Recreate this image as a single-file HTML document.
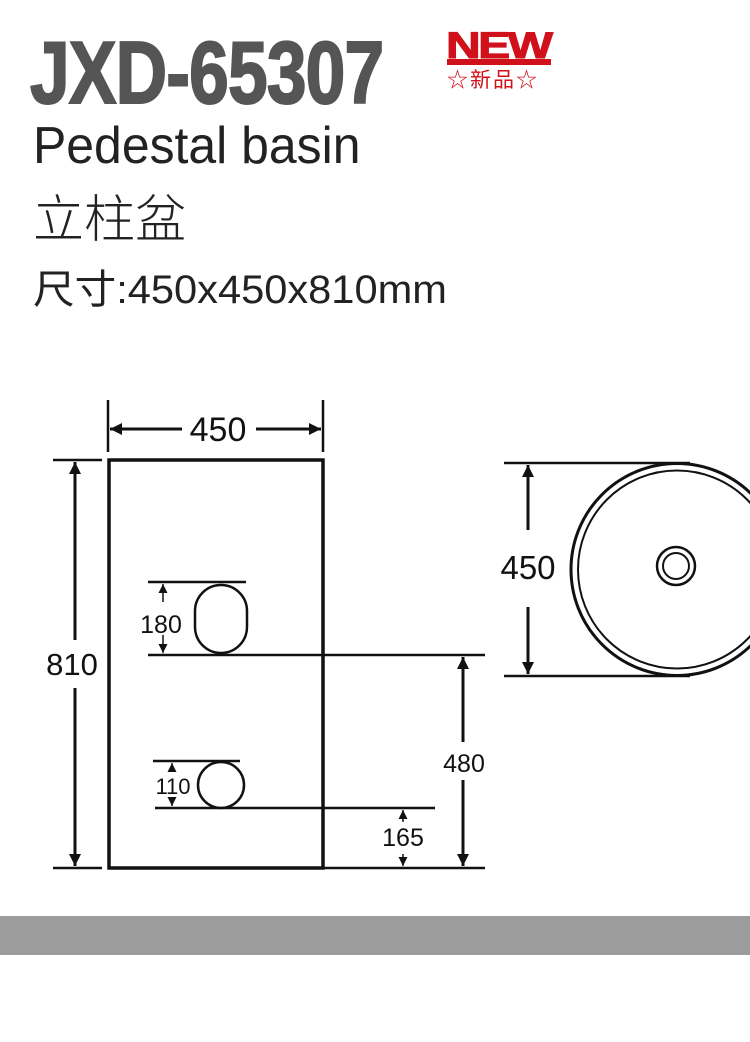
<!DOCTYPE html>
<html><head><meta charset="utf-8"><style>
body{margin:0;width:750px;height:1042px;background:#fff;position:relative;overflow:hidden;font-family:"Liberation Sans","Noto Sans CJK SC",sans-serif}
.a{position:absolute;white-space:nowrap;line-height:1}
</style></head><body>
<div class="a" style="left:30px;top:29px;font-size:88px;font-weight:bold;color:#555;transform:scaleX(0.81);transform-origin:0 0;letter-spacing:-1px;-webkit-text-stroke:2px #555">JXD-65307</div>
<div class="a" style="left:446px;top:27px;font-size:37px;font-weight:900;color:#d0101a;transform:scaleX(1.3);transform-origin:0 0;letter-spacing:-2px;-webkit-text-stroke:1px #d0101a">NEW</div>
<div class="a" style="left:447px;top:59px;width:104px;height:6px;background:#d0101a"></div>
<div class="a" style="left:447px;top:69px;font-size:21px;color:#d0101a;font-family:'Noto Sans CJK SC',sans-serif;letter-spacing:2px">☆新品☆</div>
<div class="a" style="left:33px;top:120px;font-size:52px;color:#222;font-weight:300;transform:scaleX(0.96);transform-origin:0 0">Pedestal basin</div>
<div class="a" style="left:33px;top:190px;font-size:51px;color:#222;font-family:'Noto Sans CJK SC',sans-serif;font-weight:300">立柱盆</div>
<div class="a" style="left:33px;top:270px;font-size:40px;color:#222;font-family:'Liberation Sans','Noto Sans CJK SC',sans-serif;transform:scaleX(1.04);transform-origin:0 0">尺寸:450x450x810mm</div>
<div class="a" style="left:0;top:916px;width:750px;height:39px;background:#9c9c9c"></div>
<svg class="a" style="left:0;top:0" width="750" height="1042" viewBox="0 0 750 1042">
<defs><marker id="ar" viewBox="0 0 10 10" refX="10" refY="5" markerWidth="4" markerHeight="4" orient="auto-start-reverse" markerUnits="strokeWidth"><path d="M0,0L10,5L0,10z" fill="#111"/></marker>
<marker id="as" viewBox="0 0 10 10" refX="10" refY="5" markerWidth="6" markerHeight="6" orient="auto-start-reverse" markerUnits="strokeWidth"><path d="M0,0L10,5L0,10z" fill="#111"/></marker></defs>
<g stroke="#111" fill="none">
<rect x="109" y="460" width="214" height="408" stroke-width="3.5"/>
<line x1="108" y1="400" x2="108" y2="452" stroke-width="2.5"/>
<line x1="323" y1="400" x2="323" y2="452" stroke-width="2.5"/>
<line x1="110" y1="429" x2="182" y2="429" stroke-width="3" marker-start="url(#ar)"/>
<line x1="256" y1="429" x2="321" y2="429" stroke-width="3" marker-end="url(#ar)"/>
<line x1="53" y1="460" x2="102" y2="460" stroke-width="2.5"/>
<line x1="53" y1="868" x2="102" y2="868" stroke-width="2.5"/>
<line x1="75" y1="462" x2="75" y2="640" stroke-width="3" marker-start="url(#ar)"/>
<line x1="75" y1="688" x2="75" y2="866" stroke-width="3" marker-end="url(#ar)"/>
<rect x="195" y="585" width="52" height="68" rx="26" ry="26" stroke-width="2.5"/>
<line x1="148" y1="582" x2="246" y2="582" stroke-width="2.5"/>
<line x1="148" y1="655" x2="485" y2="655" stroke-width="2.5"/>
<line x1="163" y1="584" x2="163" y2="602" stroke-width="1.5" marker-start="url(#as)"/>
<line x1="163" y1="635" x2="163" y2="653" stroke-width="1.5" marker-end="url(#as)"/>
<circle cx="221" cy="785" r="23" stroke-width="2.5"/>
<line x1="153" y1="761" x2="240" y2="761" stroke-width="2.5"/>
<line x1="155" y1="808" x2="435" y2="808" stroke-width="2.5"/>
<line x1="172" y1="763" x2="172" y2="772" stroke-width="1.5" marker-start="url(#as)"/>
<line x1="172" y1="797" x2="172" y2="806" stroke-width="1.5" marker-end="url(#as)"/>
<line x1="322" y1="868" x2="485" y2="868" stroke-width="2.5"/>
<line x1="403" y1="810" x2="403" y2="822" stroke-width="1.5" marker-start="url(#as)"/>
<line x1="403" y1="854" x2="403" y2="866" stroke-width="1.5" marker-end="url(#as)"/>
<line x1="463" y1="657" x2="463" y2="742" stroke-width="3" marker-start="url(#ar)"/>
<line x1="463" y1="780" x2="463" y2="866" stroke-width="3" marker-end="url(#ar)"/>
<line x1="504" y1="463" x2="690" y2="463" stroke-width="2.5"/>
<line x1="504" y1="676" x2="690" y2="676" stroke-width="2.5"/>
<circle cx="677" cy="569.5" r="106" stroke-width="3" fill="#fff"/>
<circle cx="677" cy="569.5" r="99" stroke-width="2"/>
<circle cx="676" cy="566" r="19" stroke-width="2.5"/>
<circle cx="676" cy="566" r="13" stroke-width="2"/>
<line x1="528" y1="465" x2="528" y2="530" stroke-width="3" marker-start="url(#ar)"/>
<line x1="528" y1="607" x2="528" y2="674" stroke-width="3" marker-end="url(#ar)"/>
</g>
<g fill="#111" font-family="Liberation Sans,sans-serif" text-anchor="middle">
<text x="218" y="441" font-size="34">450</text>
<text x="72" y="675" font-size="31">810</text>
<text x="161" y="633" font-size="25">180</text>
<text x="173" y="794" font-size="22">110</text>
<text x="403" y="846" font-size="25">165</text>
<text x="464" y="772" font-size="25">480</text>
<text x="528" y="579" font-size="33">450</text>
</g>
</svg>
</body></html>
